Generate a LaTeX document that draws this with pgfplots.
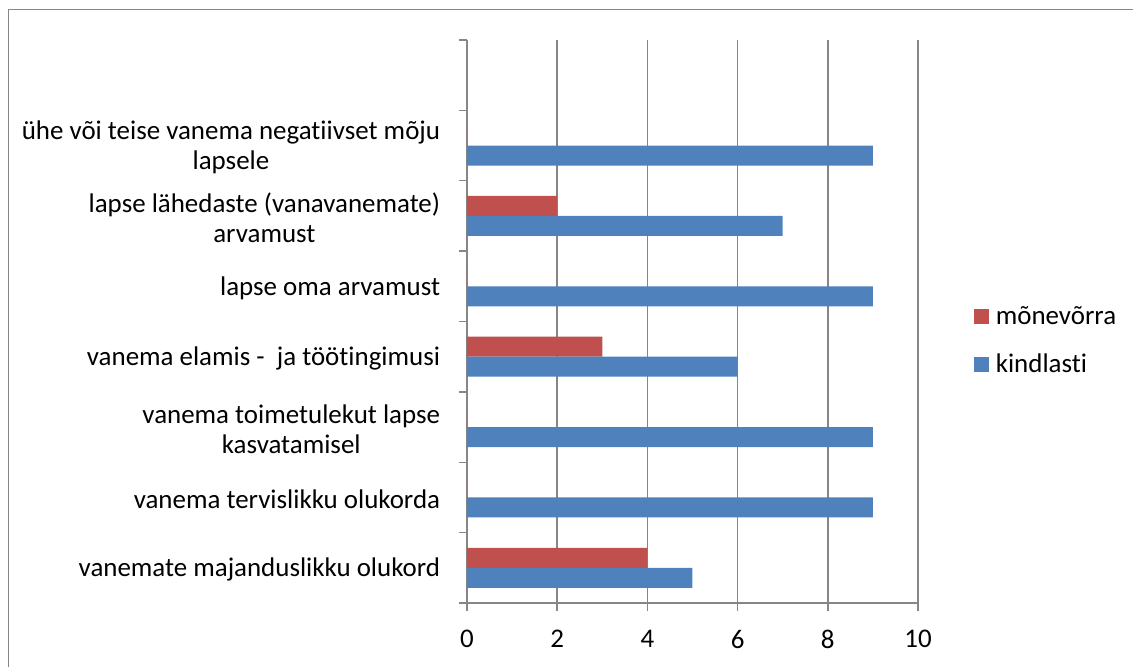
\documentclass[border=0pt]{standalone}
\usepackage{fontspec}
\setmainfont[Ligatures={NoCommon}]{Carlito}
\usepackage{pgfplots}
\pgfplotsset{compat=1.18}
\definecolor{xred}{HTML}{C0504D}
\definecolor{xblue}{HTML}{4F81BD}
\definecolor{xgrid}{HTML}{868686}
\begin{document}
\begin{tikzpicture}
\useasboundingbox (0,0) rectangle (849.75pt,500.25pt);
\draw[xgrid, line width=1.1pt] (6.375pt,-2pt) -- (6.375pt,493.125pt) -- (852pt,493.125pt);
\begin{axis}[
  at={(350.25pt,48pt)}, anchor=south west,
  scale only axis, width=338.25pt, height=422.25pt,
  xmin=0, xmax=10, ymin=-0.5, ymax=7.5,
  xbar, bar width=15pt,
  axis x line*=bottom, axis y line*=left,
  axis line style={xgrid, line width=1.1pt},
  tick style={xgrid, line width=1.1pt},
  tick align=outside, major tick length=6pt,
  xtick={0,2,...,10},
  xmajorgrids, major grid style={xgrid, line width=1.1pt},
  ytick={-0.5,0.5,...,7.5}, yticklabels={},
  extra y ticks={0,1,2,3,4,5,6},
  extra y tick labels={{vanemate majanduslikku olukord},{vanema tervislikku olukorda},{vanema toimetulekut lapse\\kasvatamisel},{vanema elamis -~ ja töötingimusi},{lapse oma arvamust},{lapse lähedaste (vanavanemate)\\arvamust},{ühe või teise vanema negatiivset mõju\\lapsele}},
  extra y tick style={major tick length=0pt, ymajorgrids=false},
  /pgf/number format/assume math mode=true,
  every tick label/.append style={font=\fontsize{20.2}{22.5}\selectfont, text=black},
  yticklabel style={align=center, inner sep=0pt, xshift=-20pt, yshift=-1.5pt},
  xticklabel style={inner sep=0pt, yshift=-14pt},
  legend style={draw=none, at={(1.115,0.466)}, anchor=west, font=\fontsize{20.2}{22.5}\selectfont, row sep=17pt,
    /tikz/every odd column/.append style={column sep=3pt}},
  legend cell align=left,
  legend image code/.code={\fill[#1] (0pt,-5.6pt) rectangle (11.25pt,5.6pt);},
]
\addplot[fill=xred, draw=none, bar shift=7.5pt] coordinates {(4,0) (0,1) (0,2) (3,3) (0,4) (2,5) (0,6)};
\addlegendentry{mõnevõrra}
\addplot[fill=xblue, draw=none, bar shift=-7.5pt] coordinates {(5,0) (9,1) (9,2) (6,3) (9,4) (7,5) (9,6)};
\addlegendentry{kindlasti}
\end{axis}
\end{tikzpicture}
\end{document}
